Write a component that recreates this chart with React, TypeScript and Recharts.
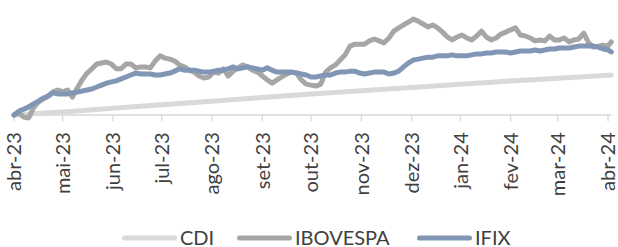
import { LineChart, Line, XAxis, YAxis, ReferenceLine } from "recharts"

// days since 2023-04-01
const days = [
  0, 3, 6, 9, 12, 15, 18, 21, 24, 27, 30, 33, 36, 39, 42, 45, 48, 51, 54, 57,
  60, 63, 66, 69, 72, 75, 78, 81, 84, 87, 90, 93, 96, 99, 102, 105, 108, 111, 114, 117,
  120, 123, 126, 129, 132, 135, 138, 141, 144, 147, 150, 153, 156, 159, 162, 165, 168, 171, 174, 177,
  180, 183, 186, 189, 192, 195, 198, 201, 204, 207, 210, 213, 216, 219, 222, 225, 228, 231, 234, 237,
  240, 243, 246, 249, 252, 255, 258, 261, 264, 267, 270, 273, 276, 279, 282, 285, 288, 291, 294, 297,
  300, 303, 306, 309, 312, 315, 318, 321, 324, 327, 330, 333, 336, 339, 342, 345, 348, 351, 354, 357,
  360, 363, 366, 368,
]

// cumulative return, %
const ibovespa = [
  0.0, 0.6, -0.6, -0.9, 2.2, 4.0, 4.9, 5.8, 7.1, 7.7,
  7.1, 7.7, 5.5, 8.3, 10.8, 12.9, 14.2, 15.7, 16.0, 16.3,
  15.7, 14.2, 14.2, 15.7, 15.7, 14.5, 14.8, 14.8, 14.5, 16.6,
  18.2, 17.5, 17.2, 16.6, 15.4, 14.8, 13.8, 13.2, 12.0, 11.4,
  11.7, 13.2, 12.9, 14.2, 12.0, 13.5, 14.5, 15.4, 14.8, 13.8,
  13.2, 12.0, 10.8, 9.8, 10.8, 11.7, 12.6, 13.2, 12.9, 10.8,
  9.5, 9.2, 8.9, 9.5, 13.2, 14.5, 15.4, 16.9, 18.5, 21.2,
  21.8, 21.8, 21.8, 22.8, 23.4, 22.8, 22.2, 23.7, 25.8, 26.8,
  27.7, 28.6, 29.5, 28.9, 28.0, 27.1, 27.7, 26.8, 25.5, 24.0,
  23.1, 24.0, 24.6, 23.7, 23.1, 24.3, 25.8, 24.0, 23.1, 23.7,
  24.9, 25.5, 26.2, 26.8, 24.6, 24.3, 23.7, 22.8, 23.1, 22.8,
  24.3, 23.1, 23.1, 23.7, 22.5, 23.1, 23.4, 25.2, 22.2, 20.9,
  21.2, 21.5, 21.2, 22.5,
]

const ifix = [
  0.0, 1.2, 1.8, 2.5, 3.4, 4.3, 5.2, 5.8, 6.8, 6.5,
  6.5, 6.5, 6.8, 7.1, 7.4, 7.7, 8.0, 8.6, 9.2, 9.8,
  10.2, 10.5, 11.1, 11.7, 12.3, 12.9, 12.6, 12.6, 12.6, 12.3,
  12.3, 12.6, 12.9, 13.5, 14.2, 13.8, 13.8, 13.8, 13.5, 13.2,
  13.2, 13.5, 13.8, 13.8, 14.2, 14.8, 14.2, 14.5, 14.8, 14.5,
  14.2, 13.8, 14.5, 13.8, 13.2, 13.2, 13.2, 13.2, 12.9, 12.6,
  12.3, 11.7, 11.7, 12.0, 12.3, 12.3, 12.9, 13.2, 13.2, 13.5,
  13.5, 12.9, 12.6, 12.9, 13.2, 13.2, 13.2, 12.6, 12.9, 13.5,
  14.8, 16.0, 16.9, 17.2, 17.5, 17.8, 17.8, 18.2, 18.2, 18.2,
  18.5, 18.2, 18.2, 18.2, 18.5, 18.8, 18.8, 19.1, 19.1, 19.4,
  19.4, 19.4, 19.1, 19.4, 19.7, 19.7, 19.7, 20.0, 19.7, 20.0,
  20.3, 20.3, 20.6, 20.6, 20.6, 20.9, 21.2, 21.2, 21.2, 21.2,
  20.9, 20.3, 20.0, 19.4,
]

// CDI accumulated at month starts
const cdiDays = [0, 30, 61, 91, 122, 153, 183, 214, 245, 275, 306, 335, 366, 368]
const cdi = [0, 0.92, 2.06, 3.15, 4.25, 5.42, 6.43, 7.48, 8.47, 9.46, 10.48, 11.34, 12.26, 12.3]

const monthDays = [0, 30, 61, 91, 122, 153, 183, 214, 245, 275, 306, 335, 366]
const monthLabels = [
  "abr-23", "mai-23", "jun-23", "jul-23", "ago-23", "set-23", "out-23",
  "nov-23", "dez-23", "jan-24", "fev-24", "mar-24", "abr-24",
]

const data = days.map((day, i) => ({ day, ibovespa: ibovespa[i], ifix: ifix[i] }))
const cdiData = cdiDays.map((day, i) => ({ day, cdi: cdi[i] }))

const COLORS = { cdi: "#d9d9d9", ibovespa: "#a6a6a6", ifix: "#8096b4" }
const FONT = "Lato, 'Open Sans', sans-serif"

const MonthTick = (props: any) => {
  const { x, y, payload } = props
  const label = monthLabels[monthDays.indexOf(payload.value)]
  return (
    <text
      x={x}
      y={y}
      transform={`rotate(-90, ${x}, ${y})`}
      textAnchor="end"
      dy="0.36em"
      fontFamily={FONT}
      fontSize={20}
      fill="#404040"
    >
      {label}
    </text>
  )
}

const legendItems = [
  { name: "CDI", color: COLORS.cdi },
  { name: "IBOVESPA", color: COLORS.ibovespa },
  { name: "IFIX", color: COLORS.ifix },
]

export default function App() {
  return (
    <div style={{ position: "absolute", left: 0, top: 0, width: 618, height: 247, background: "#fff" }}>
      <LineChart
        width={618}
        height={247}
        margin={{ top: 1.25, right: 6.7, bottom: 35.75, left: 14 }}
      >
        <XAxis
          dataKey="day"
          type="number"
          domain={[0, 368]}
          ticks={monthDays}
          interval={0}
          axisLine={false}
          tickLine={false}
          tickSize={0}
          tickMargin={1}
          height={80}
          tick={<MonthTick />}
        />
        <YAxis type="number" domain={[-5, 35]} hide />
        <ReferenceLine y={0} stroke="#d9d9d9" strokeWidth={1.3} />
        {monthDays.map((d) => (
          <ReferenceLine
            key={d}
            segment={[{ x: d, y: 0 }, { x: d, y: -1.9 }]}
            stroke="#d9d9d9"
            strokeWidth={1.3}
          />
        ))}
        <Line
          data={cdiData}
          dataKey="cdi"
          stroke={COLORS.cdi}
          strokeWidth={5}
          strokeLinecap="round"
          dot={false}
          isAnimationActive={false}
        />
        <Line
          data={data}
          dataKey="ibovespa"
          stroke={COLORS.ibovespa}
          strokeWidth={5}
          strokeLinecap="round"
          strokeLinejoin="round"
          dot={false}
          isAnimationActive={false}
        />
        <Line
          data={data}
          dataKey="ifix"
          stroke={COLORS.ifix}
          strokeWidth={5}
          strokeLinecap="round"
          strokeLinejoin="round"
          dot={false}
          isAnimationActive={false}
        />
      </LineChart>
      <svg
        width={618}
        height={30}
        style={{ position: "absolute", left: 0, top: 223 }}
        fontFamily={FONT}
        fontSize={20}
      >
        {legendItems.map((item, i) => {
          const starts = [122, 237, 417]
          const x0 = starts[i]
          return (
            <g key={item.name}>
              <line x1={x0 + 2.5} x2={x0 + 52.5} y1={15} y2={15} stroke={item.color} strokeWidth={5} strokeLinecap="round" />
              <text x={x0 + 58} y={15} dy="0.36em" fill="#404040">
                {item.name}
              </text>
            </g>
          )
        })}
      </svg>
    </div>
  )
}
